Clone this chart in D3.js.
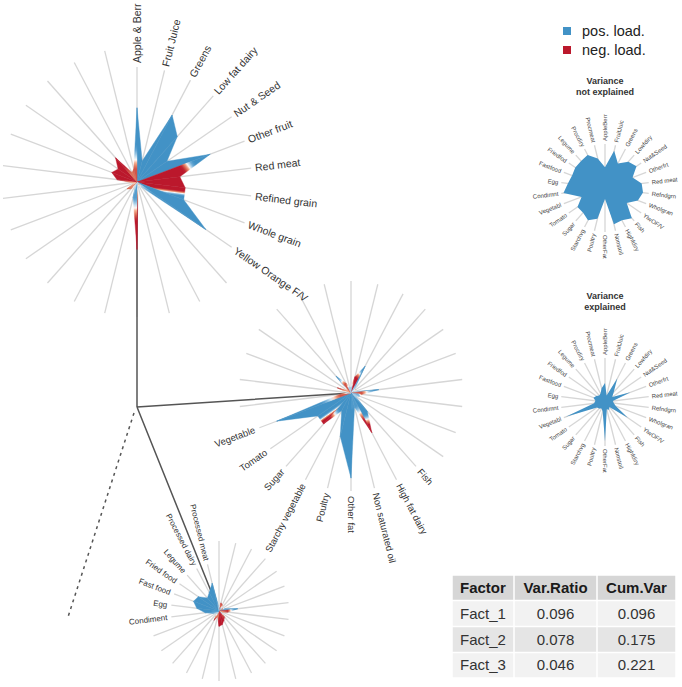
<!DOCTYPE html>
<meta charset="utf-8">
<style>
  body { margin: 0; background: #fff; }
  svg { font-family: "Liberation Sans", Arial, sans-serif; }
  .spoke { stroke: #d6d6d6; stroke-width: 1.3; }
  .tree { stroke: #555; stroke-width: 1.5; fill: none; }
  .lab { fill: #333; }
</style>
<svg width="682" height="687"></svg>
<script src="https://d3js.org/d3.v7.min.js"></script>
<script>
// food groups, clockwise from the top
var foods = ["Apple & Berr", "Fruit Juice", "Greens", "Low fat dairy", "Nut & Seed", "Other fruit",
  "Red meat", "Refined grain", "Whole grain", "Yellow Orange F/V", "Fish", "High fat dairy",
  "Non saturated oil", "Other fat", "Poultry", "Starchy vegetable", "Sugar", "Tomato", "Vegetable",
  "Condiment", "Egg", "Fast food", "Fried food", "Legume", "Processed dairy", "Processed meat"];
var shortNames = ["AppleBerr", "FruitJuic", "Greens", "Lowfdiry", "Nut&Seed", "Otherfrt",
  "Red meat", "Refndgrn", "Wholgran", "YlwOF/V", "Fish", "Highfdiry",
  "Nonstoil", "OtherFat", "Poultry", "Starchvg", "Sugar", "Tomato", "Vegetabl",
  "Condimnt", "Egg", "Fastfood", "Friedfod", "Legume", "Procdiry", "Procmeat"];

// loadings
var fact1 = [0.55, 0.16, 0.56, 0.45, 0.27, 0.58, -0.32, -0.36, 0.37, 0.62, 0.05, -0.03, 0.03,
  -0.50, 0.12, 0.03, -0.07, -0.09, -0.02, -0.04, -0.15, -0.20, -0.17, -0.24, -0.08, -0.10];
var fact2 = [0.05, -0.15, 0.27, 0.05, -0.05, 0.04, 0.25, -0.10, 0.08, 0.05, 0.22, -0.40, 0.13,
  0.76, 0.40, 0.18, -0.37, 0.36, 0.71, -0.10, 0.03, -0.13, -0.04, 0.20, -0.10, 0.05];
var fact3 = [0.05, -0.12, -0.10, 0.05, -0.06, 0.10, 0.27, -0.13, -0.05, 0.05, -0.12, -0.15, -0.20,
  -0.22, -0.08, -0.15, 0.04, 0.05, 0.10, 0.20, 0.32, 0.39, 0.36, 0.25, 0.30, 0.41];

var varNotExpl = [0.47, 0.87, 0.63, 0.80, 0.87, 0.67, 0.84, 0.87, 0.80, 0.60, 0.92, 0.83, 0.85,
  0.25, 0.72, 0.83, 0.75, 0.76, 0.57, 0.95, 0.85, 0.80, 0.82, 0.82, 0.85, 0.69];
var varExpl = [0.43, 0.15, 0.60, 0.30, 0.20, 0.62, 0.18, 0.20, 0.26, 0.63, 0.15, 0.20, 0.17,
  0.90, 0.22, 0.17, 0.20, 0.22, 0.95, 0.25, 0.22, 0.28, 0.24, 0.20, 0.22, 0.32];

var factorNames = ["Fact_1", "Fact_2", "Fact_3"];
var varRatio = ["0.096", "0.078", "0.046"];
var cumVar = ["0.096", "0.175", "0.221"];
var tableHead = ["Factor", "Var.Ratio", "Cum.Var"];

var BLUE = "#4292c6", RED = "#bb182c";
var loadColor = d3.scaleLinear()
  .domain([-0.15, -0.09, -0.04, 0, 0.04, 0.09, 0.15])
  .range([RED, "#d6604d", "#f4a582", "#ffffff", "#b4d5ea", "#6aaad6", BLUE])
  .clamp(true);

var svg = d3.select("svg");
var defs = svg.append("defs");

var radars = [
  {vals: fact1, cx: 137, cy: 182, R: 135, Rlab: 115, labR: 119, fs: 10.5, from: 0, to: 9},
  {vals: fact2, cx: 351, cy: 393, R: 112, Rlab: 98, labR: 103, fs: 9.5, from: 10, to: 18},
  {vals: fact3, cx: 219, cy: 611, R: 70, Rlab: 48, labR: 52, fs: 8, from: 19, to: 25}
];

var n = foods.length;
var ang = d3.scaleLinear().domain([0, n]).range([0, 2 * Math.PI]);

function labelPos(a, r, cx, cy) {
  var deg = a * 180 / Math.PI;
  var right = deg <= 180.01;
  return {
    x: cx + r * Math.sin(a), y: cy - r * Math.cos(a),
    rot: right ? deg - 90 : deg + 90, anchor: right ? "start" : "end"
  };
}

// spokes
var spokeG = svg.append("g");
radars.forEach(function(rd) {
  spokeG.selectAll(null).data(d3.range(n)).enter().append("line")
    .attr("class", "spoke")
    .attr("x1", rd.cx).attr("y1", rd.cy)
    .attr("x2", function(i) { var len = (i >= rd.from && i <= rd.to) ? rd.Rlab : rd.R; return rd.cx + len * Math.sin(ang(i)); })
    .attr("y2", function(i) { var len = (i >= rd.from && i <= rd.to) ? rd.Rlab : rd.R; return rd.cy - len * Math.cos(ang(i)); });
});

// tree
var tree = svg.append("g");
tree.append("path").attr("class", "tree")
  .attr("d", "M137,182L137,407M137,407L351,393M137,407L219,611");
tree.append("path").attr("class", "tree").attr("stroke-dasharray", "3,4")
  .attr("d", "M134,413L68,617");

// loading shapes: a triangle per pair of neighbouring spokes, colour blended along the edge
radars.forEach(function(rd, ri) {
  var r = d3.scaleLinear().domain([0, 1]).range([0, rd.R]);
  function pt(i) {
    var a = ang(i % n), rr = r(Math.abs(rd.vals[i % n]));
    return [rd.cx + rr * Math.sin(a), rd.cy - rr * Math.cos(a)];
  }
  var g = svg.append("g");
  d3.range(n).forEach(function(i) {
    var a = pt(i), b = pt(i + 1), v0 = rd.vals[i], v1 = rd.vals[(i + 1) % n];
    var id = "gr" + ri + "_" + i;
    var grad = defs.append("linearGradient").attr("id", id)
      .attr("gradientUnits", "userSpaceOnUse")
      .attr("x1", a[0]).attr("y1", a[1]).attr("x2", b[0]).attr("y2", b[1]);
    d3.range(21).forEach(function(k) {
      var t = k / 20;
      grad.append("stop").attr("offset", t).attr("stop-color", loadColor(v0 + (v1 - v0) * t));
    });
    g.append("path")
      .attr("d", "M" + rd.cx + "," + rd.cy + "L" + a + "L" + b + "Z")
      .attr("fill", "url(#" + id + ")")
      .attr("stroke", "url(#" + id + ")").attr("stroke-width", 0.4);
  });

  // labels
  var labs = d3.range(rd.from, rd.to + 1);
  svg.append("g").selectAll("text").data(labs).enter().append("text")
    .attr("class", "lab")
    .attr("font-size", rd.fs)
    .attr("dy", "0.35em")
    .each(function(i) {
      var p = labelPos(ang(i), rd.labR, rd.cx, rd.cy);
      d3.select(this).attr("text-anchor", p.anchor)
        .attr("transform", "translate(" + p.x + "," + p.y + ") rotate(" + p.rot + ")");
    })
    .text(function(i) { return foods[i]; });
});

// legend
var leg = svg.append("g");
[["pos. load.", BLUE], ["neg. load.", RED]].forEach(function(d, k) {
  leg.append("rect").attr("x", 563).attr("y", 27 + k * 19).attr("width", 8).attr("height", 8).attr("fill", d[1]);
  leg.append("text").attr("x", 582).attr("y", 36 + k * 19).attr("font-size", 14.5).attr("fill", "#222").text(d[0]);
});

// variance plots
var vplots = [
  {vals: varNotExpl, cx: 605, cy: 188, title: ["Variance", "not explained"], ty: 84},
  {vals: varExpl, cx: 605, cy: 402, title: ["Variance", "explained"], ty: 299}
];
vplots.forEach(function(vp) {
  var R = 44;
  var r = d3.scaleLinear().domain([0, 1]).range([0, R]);
  var g = svg.append("g").attr("transform", "translate(" + vp.cx + "," + vp.cy + ")");
  g.selectAll("line").data(d3.range(n)).enter().append("line")
    .attr("class", "spoke").attr("stroke-width", 1)
    .attr("x2", function(i) { return R * Math.sin(ang(i)); })
    .attr("y2", function(i) { return -R * Math.cos(ang(i)); });
  var line = d3.lineRadial()
    .angle(function(d, i) { return ang(i); })
    .radius(function(d) { return r(d); })
    .curve(d3.curveLinearClosed);
  g.append("path").attr("d", line(vp.vals)).attr("fill", BLUE);
  g.selectAll("text").data(d3.range(n)).enter().append("text")
    .attr("font-size", 6).attr("fill", "#444").attr("dy", "0.35em")
    .each(function(i) {
      var p = labelPos(ang(i), R + 3, 0, 0);
      d3.select(this).attr("text-anchor", p.anchor)
        .attr("transform", "translate(" + p.x + "," + p.y + ") rotate(" + p.rot + ")");
    })
    .text(function(i) { return shortNames[i]; });
  vp.title.forEach(function(t, k) {
    svg.append("text").attr("x", vp.cx).attr("y", vp.ty + k * 11)
      .attr("text-anchor", "middle").attr("font-size", 9).attr("font-weight", "bold")
      .attr("fill", "#333").text(t);
  });
});

// table
var colX = [452, 514, 597, 676];
var rowY = [575, 600.5, 626.5, 652.5, 678];
var rowFill = ["#d6d6d6", "#f2f2f2", "#e5e5e5", "#f2f2f2"];
var rows = [tableHead].concat(factorNames.map(function(f, i) { return [f, varRatio[i], cumVar[i]]; }));
var tbl = svg.append("g");
rows.forEach(function(row, ri) {
  row.forEach(function(cell, ci) {
    tbl.append("rect")
      .attr("x", colX[ci] + 0.75).attr("y", rowY[ri] + 0.75)
      .attr("width", colX[ci + 1] - colX[ci] - 1.5).attr("height", rowY[ri + 1] - rowY[ri] - 1.5)
      .attr("fill", rowFill[ri]);
    var left = ci === 0;
    tbl.append("text")
      .attr("x", left ? colX[ci] + 8 : (colX[ci] + colX[ci + 1]) / 2)
      .attr("y", (rowY[ri] + rowY[ri + 1]) / 2 + 5)
      .attr("text-anchor", left ? "start" : "middle")
      .attr("font-size", 15)
      .attr("font-weight", ri === 0 ? "bold" : "normal")
      .attr("fill", ri === 0 ? "#1a1a1a" : "#333")
      .text(cell);
  });
});
</script>
